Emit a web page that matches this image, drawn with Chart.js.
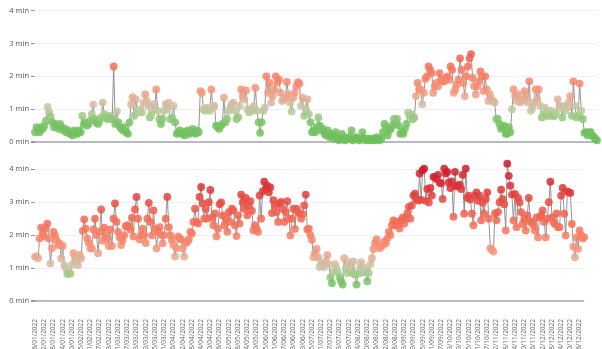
<!DOCTYPE html>
<html>
<head>
<meta charset="utf-8">
<script src="https://cdn.jsdelivr.net/npm/chart.js@4.4.1/dist/chart.umd.min.js"></script>
<style>
  html, body { margin: 0; padding: 0; background: #fff; overflow: hidden; }
  #top { position: absolute; left: 0; top: -4px; }
  #bottom { position: absolute; left: 0; top: 150px; }
</style>
</head>
<body>
<canvas id="top" width="602" height="154"></canvas>
<canvas id="bottom" width="602" height="199"></canvas>
<script>
// valeurs (minutes), une par jour depuis le 06/01/2022
const topValues = [
  0.3,0.45,0.35,0.3,0.45,0.4,0.5,0.65,1.07,0.9,
  0.77,0.6,0.45,0.55,0.5,0.4,0.55,0.45,0.35,0.4,
  0.3,0.35,0.25,0.3,0.2,0.35,0.3,0.25,0.35,0.3,
  0.8,0.55,0.6,0.5,0.55,0.65,0.85,1.14,0.7,0.6,
  0.55,0.65,0.75,1.2,0.85,0.75,0.7,0.8,0.75,0.7,
  2.3,0.55,0.93,0.6,0.45,0.4,0.35,0.45,0.3,0.25,
  0.6,1.15,1.37,0.8,1.3,0.95,0.9,1.0,0.9,1.2,
  1.45,1.25,1.1,0.75,0.85,1.15,1.0,1.6,0.95,0.7,
  0.55,0.7,0.95,1.15,1.0,1.2,0.7,0.75,1.1,0.6,
  0.25,0.3,0.35,0.25,0.3,0.2,0.3,0.35,0.25,0.3,
  0.4,0.3,0.25,0.35,0.3,1.55,1.5,1.0,0.95,1.05,
  1.0,0.95,1.6,1.05,1.1,0.5,0.45,0.4,0.5,0.55,
  1.35,0.6,0.7,0.95,1.05,1.15,1.2,0.95,0.7,0.75,
  1.1,1.6,1.4,1.3,1.57,1.0,0.9,1.0,0.95,1.1,
  1.65,0.95,0.6,0.28,0.6,0.95,1.05,2.0,1.5,1.8,
  1.2,1.4,1.6,2.0,1.82,1.9,1.5,1.25,1.3,1.35,
  1.83,1.45,1.2,0.93,1.35,1.5,1.7,1.82,1.78,1.1,
  1.35,0.8,1.0,1.3,0.85,0.6,0.3,0.35,0.3,0.45,
  0.75,0.5,0.35,0.4,0.25,0.2,0.35,0.15,0.25,0.2,
  0.1,0.3,0.15,0.05,0.1,0.25,0.1,0.05,0.1,0.15,
  0.1,0.35,0.05,0.1,0.15,0.1,0.05,0.1,0.3,0.1,
  0.05,0.1,0.05,0.1,0.05,0.1,0.05,0.15,0.1,0.05,
  0.1,0.3,0.55,0.45,0.2,0.35,0.4,0.5,0.7,0.6,
  0.7,0.5,0.25,0.3,0.25,0.4,0.55,0.9,0.8,0.85,
  0.7,0.75,1.4,1.8,1.6,1.6,1.15,1.5,1.93,2.0,
  2.3,2.2,2.1,1.5,1.7,1.8,1.7,2.1,1.9,1.85,
  1.85,1.95,2.0,1.9,2.3,2.2,1.5,1.6,1.75,1.9,
  2.55,2.2,1.8,1.4,2.0,2.3,2.55,2.68,1.95,1.7,
  1.45,1.7,1.85,2.15,2.0,1.55,2.0,1.6,1.25,1.45,
  1.3,1.25,1.2,0.7,0.7,0.55,0.4,0.45,0.5,0.25,
  0.25,0.45,0.3,1.0,1.6,1.4,1.25,1.45,1.2,1.25,
  1.3,1.55,1.4,1.2,1.85,0.95,1.05,1.2,1.6,1.3,
  1.6,1.1,0.75,0.85,1.05,0.8,0.95,0.8,0.95,0.8,
  0.8,0.9,1.3,1.1,1.05,0.75,1.1,0.95,1.05,1.2,
  1.4,0.8,1.85,1.1,0.75,0.8,1.78,0.95,0.7,0.28,
  0.3,0.2,0.3,0.3,0.2,0.15,0.1,0.05
];

const bottomValues = [
  1.34,1.36,1.3,1.9,2.23,2.05,1.96,2.2,2.35,1.9,
  1.14,1.6,2.1,2.0,1.85,1.7,1.75,1.3,1.67,1.09,
  1.0,0.82,0.85,0.83,1.1,1.45,1.3,1.2,1.09,1.4,
  1.3,2.13,2.48,2.2,1.9,1.75,1.6,1.6,2.17,2.5,
  2.0,1.45,2.1,2.78,1.83,2.23,2.0,1.9,1.67,2.17,
  1.67,2.5,2.96,2.4,2.1,1.93,1.7,1.85,2.0,2.27,
  2.3,2.25,2.17,2.53,1.96,2.78,3.16,2.5,1.87,2.0,
  2.2,2.0,1.76,2.5,2.98,2.4,1.99,2.75,2.2,1.6,
  2.1,2.24,2.0,1.75,2.0,2.5,3.16,2.24,2.0,1.85,
  1.7,1.35,1.6,1.96,1.9,1.87,1.6,1.35,1.76,1.8,
  1.87,2.1,2.05,2.4,2.8,2.4,2.35,3.16,3.46,2.96,
  2.5,2.8,2.5,3.0,3.37,2.54,2.3,2.66,1.96,2.19,
  2.94,2.99,2.6,2.3,2.5,2.1,2.7,2.4,2.8,2.75,
  2.3,1.97,2.6,2.35,3.23,3.0,2.8,3.13,2.6,2.9,
  3.03,2.74,2.15,2.3,2.2,2.1,3.2,2.5,3.33,3.62,
  3.4,3.5,3.3,3.45,2.67,3.06,2.9,2.7,2.4,2.96,
  3.01,2.8,2.4,2.7,3.03,2.5,1.99,2.5,2.8,2.19,
  2.8,2.7,2.66,2.5,2.64,2.9,3.23,2.17,2.2,2.0,
  1.86,1.33,1.45,1.58,1.33,1.03,1.15,1.1,1.03,1.2,
  1.39,1.12,0.72,0.54,0.9,1.12,1.0,0.86,0.72,0.6,
  0.5,1.3,1.0,0.85,1.18,1.0,0.85,1.2,0.8,0.5,
  0.83,1.0,1.18,0.86,0.9,1.0,0.6,0.85,1.12,1.3,
  1.58,1.75,1.87,1.7,1.6,1.65,1.7,1.8,1.75,1.9,
  2.1,2.0,2.3,2.45,2.3,2.4,2.3,2.2,2.45,2.54,
  2.35,2.5,2.66,2.86,2.5,2.9,3.2,3.26,3.1,3.05,
  3.87,3.07,3.97,4.02,3.04,3.4,2.99,3.43,3.2,3.77,
  3.75,3.7,3.83,3.6,3.57,3.1,4.02,3.87,3.92,3.6,
  3.43,3.63,2.56,3.92,3.48,3.5,3.53,3.4,3.83,2.65,
  4.02,3.13,3.2,3.08,2.65,2.3,3.2,3.3,3.04,3.2,
  2.45,2.99,2.65,3.1,3.3,2.5,1.6,1.55,1.5,2.66,
  2.45,2.7,3.0,3.38,3.1,2.94,2.14,4.17,3.8,3.5,
  3.23,2.45,3.25,2.24,3.13,2.99,2.7,2.34,2.5,2.14,
  2.6,3.13,2.4,2.4,2.3,2.14,2.54,1.93,2.54,2.6,
  2.75,2.4,1.93,2.5,3.0,3.62,2.54,2.4,2.34,2.66,
  2.24,2.24,3.2,3.43,2.65,1.99,3.33,3.3,3.28,2.34,
  1.65,1.33,1.93,1.58,2.14,1.99,1.9,1.94
];

const yTicks = [0, 1, 2, 3, 4];
const yMax = 4.25;
const tickUnit = " min";
const labelEvery = 6;

// dates (catégories)
const dates = [];
for (let i = 0; i < topValues.length; i++) {
    const d = new Date(2022, 0, 6 + i);
    const dd = String(d.getDate()).padStart(2, "0");
    const mm = String(d.getMonth() + 1).padStart(2, "0");
    dates.push(`${dd}/${mm}/${d.getFullYear()}`);
}

// échelle de couleur vert -> rouge selon la valeur
const colorStops = [
    [0.0, [108, 191, 90]],
    [0.6, [121, 196, 102]],
    [0.9, [178, 205, 150]],
    [1.05, [205, 194, 168]],
    [1.25, [222, 180, 156]],
    [1.5, [245, 154, 128]],
    [2.0, [247, 126, 100]],
    [2.6, [242, 99, 79]],
    [3.1, [230, 70, 63]],
    [3.6, [217, 43, 51]],
    [4.2, [200, 23, 42]]
];

function valueColor(v) {
    let c = colorStops[colorStops.length - 1][1];
    for (let i = 0; i < colorStops.length - 1; i++) {
        const [a, ca] = colorStops[i];
        const [b, cb] = colorStops[i + 1];
        if (v <= a) { c = ca; break; }
        if (v <= b) {
            const t = (v - a) / (b - a);
            c = ca.map((x, k) => Math.round(x + (cb[k] - x) * t));
            break;
        }
    }
    return `rgba(${c[0]}, ${c[1]}, ${c[2]}, 0.85)`;
}

const font = { family: "'Open Sans', 'Noto Sans', sans-serif", size: 7.5 };
const xFont = { family: "'Open Sans', 'Noto Sans', sans-serif", size: 6.5 };

function yScale() {
    return {
        min: yTicks[0],
        max: yMax,
        afterBuildTicks: s => { s.ticks = yTicks.map(v => ({ value: v })); },
        afterFit: s => { s.width = 35; },
        border: { display: false },
        grid: {
            color: c => c.tick && c.tick.value === 0 ? "#b4bbc2" : "#f1f1f1",
            lineWidth: c => c.tick && c.tick.value === 0 ? 2 : 1,
            tickColor: "#999",
            tickLength: 4
        },
        ticks: {
            color: "#555",
            font: font,
            padding: 2,
            callback: v => v + tickUnit
        }
    };
}

function makeDataset(values) {
    return {
        data: values,
        clip: false,
        borderColor: "rgba(130, 130, 130, 0.85)",
        borderWidth: 1,
        tension: 0,
        pointRadius: 3.9,
        pointBorderWidth: 0,
        pointBackgroundColor: c => valueColor(c.raw),
        pointBorderColor: "rgba(0,0,0,0)"
    };
}

const commonOptions = {
    responsive: false,
    animation: false,
    plugins: { legend: { display: false }, tooltip: { enabled: false } }
};

new Chart(document.getElementById("top").getContext("2d"), {
    type: "line",
    data: { labels: dates, datasets: [makeDataset(topValues)] },
    options: {
        ...commonOptions,
        layout: { padding: { top: 2, bottom: 8, left: 0, right: 5 } },
        scales: {
            x: { display: false },
            y: yScale()
        }
    }
});

new Chart(document.getElementById("bottom").getContext("2d"), {
    type: "line",
    data: { labels: dates, datasets: [makeDataset(bottomValues)] },
    options: {
        ...commonOptions,
        layout: { padding: { top: 11, bottom: 0, left: 0, right: 5 } },
        scales: {
            x: {
                afterFit: s => { s.height = 48; },
                border: { display: false },
                grid: { display: false },
                ticks: {
                    autoSkip: false,
                    minRotation: 90,
                    maxRotation: 90,
                    color: "#666",
                    font: xFont,
                    padding: 10,
                    callback: (v, i) => i % labelEvery === 0 ? dates[i] : ""
                }
            },
            y: yScale()
        }
    }
});
</script>
</body>
</html>
